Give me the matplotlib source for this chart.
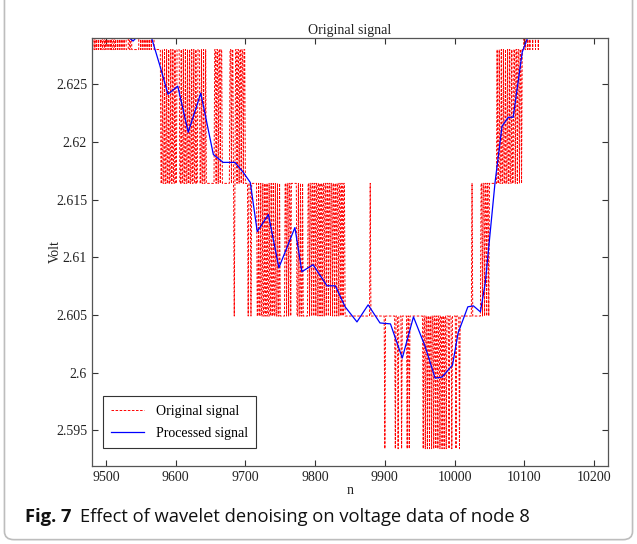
import numpy as np
import matplotlib
matplotlib.use("Agg")
import matplotlib.pyplot as plt
from matplotlib.patches import FancyBboxPatch
from matplotlib.ticker import FuncFormatter

# quantisation levels of the raw voltage (Volt)
levels = [2.5934, 2.6049, 2.6164, 2.6280, 2.6395]

# original signal as (n where it switches, level index from there on)
orig_switches = [
    (9470, 4), (9472, 3), (9473, 4), (9475, 3), (9476, 4), (9477, 3), (9479, 4), (9480, 3),
    (9482, 4), (9483, 3), (9485, 4), (9486, 3), (9487, 4), (9489, 3), (9490, 4), (9492, 3),
    (9493, 4), (9494, 3), (9496, 4), (9497, 3), (9499, 4), (9500, 3), (9501, 4), (9503, 3),
    (9504, 4), (9506, 3), (9507, 4), (9508, 3), (9510, 4), (9511, 3), (9513, 4), (9514, 3),
    (9515, 4), (9517, 3), (9518, 4), (9520, 3), (9521, 4), (9523, 3), (9524, 4), (9526, 3),
    (9527, 4), (9529, 3), (9533, 4), (9534, 3), (9536, 4), (9537, 3), (9548, 4), (9550, 3),
    (9551, 4), (9553, 3), (9554, 4), (9556, 3), (9557, 4), (9559, 3), (9560, 4), (9562, 3),
    (9563, 4), (9565, 3), (9566, 4), (9569, 3),
    (9579, 2), (9581, 3), (9582, 2), (9584, 3), (9585, 2), (9587, 3), (9588, 2), (9590, 3),
    (9591, 2), (9593, 3), (9594, 2), (9596, 3), (9597, 2), (9599, 3), (9600, 2), (9602, 3),
    (9606, 2), (9608, 3), (9609, 2), (9611, 3), (9612, 2), (9614, 3), (9615, 2), (9617, 3),
    (9618, 2), (9620, 3), (9621, 2), (9623, 3), (9624, 2), (9626, 3), (9627, 2), (9629, 3),
    (9630, 2), (9632, 3), (9635, 2), (9637, 3), (9638, 2), (9640, 3), (9641, 2), (9643, 3),
    (9644, 2), (9656, 3), (9658, 2), (9659, 3), (9661, 2), (9662, 3), (9664, 2), (9665, 3),
    (9667, 2), (9678, 3), (9680, 2), (9681, 3), (9683, 2), (9684, 1), (9685, 2), (9686, 3),
    (9688, 2), (9689, 3), (9691, 2), (9692, 3), (9694, 2), (9695, 3), (9697, 2), (9698, 3),
    (9700, 2), (9704, 1), (9705, 2), (9708, 1), (9709, 2),
    (9717, 1), (9719, 2), (9720, 1), (9722, 2), (9723, 1), (9725, 2), (9726, 1), (9728, 2),
    (9729, 1), (9731, 2), (9732, 1), (9734, 2), (9735, 1), (9737, 2), (9738, 1), (9740, 2),
    (9741, 1), (9743, 2), (9744, 1), (9746, 2), (9747, 1), (9749, 2), (9750, 1),
    (9757, 2), (9759, 1), (9760, 2), (9762, 1), (9763, 2), (9765, 1), (9766, 2),
    (9774, 1), (9776, 2), (9777, 1), (9779, 2), (9780, 1), (9782, 2), (9783, 1),
    (9790, 2), (9792, 1), (9793, 2), (9795, 1), (9796, 2), (9798, 1), (9799, 2), (9801, 1),
    (9802, 2), (9804, 1), (9805, 2), (9807, 1), (9808, 2), (9810, 1), (9811, 2), (9813, 1),
    (9814, 2), (9816, 1), (9817, 2), (9819, 1), (9820, 2), (9822, 1), (9823, 2), (9825, 1),
    (9826, 2), (9828, 1), (9829, 2), (9831, 1), (9832, 2), (9834, 1), (9835, 2), (9837, 1),
    (9838, 2), (9840, 1), (9841, 2), (9843, 1), (9879, 2), (9880, 1),
    (9900, 0), (9901, 1), (9915, 0), (9916, 1), (9919, 0), (9920, 1), (9924, 0), (9925, 1),
    (9932, 0), (9933, 1), (9935, 0), (9936, 1),
    (9955, 0), (9956, 1), (9958, 0), (9959, 1), (9961, 0), (9962, 1), (9964, 0), (9965, 1),
    (9967, 0), (9968, 1), (9970, 0), (9971, 1), (9973, 0), (9974, 1), (9976, 0), (9977, 1),
    (9979, 0), (9980, 1), (9982, 0), (9983, 1), (9985, 0), (9986, 1), (9988, 0), (9989, 1),
    (9992, 0), (9993, 1), (9996, 0), (9997, 1), (10002, 0), (10003, 1), (10007, 0), (10008, 1),
    (10025, 2), (10026, 1),
    (10038, 2), (10040, 1), (10041, 2), (10043, 1), (10044, 2), (10046, 1), (10047, 2), (10049, 1),
    (10050, 2),
    (10061, 3), (10062, 2), (10064, 3), (10065, 2), (10067, 3), (10068, 2), (10070, 3), (10071, 2),
    (10073, 3), (10074, 2), (10076, 3), (10077, 2), (10079, 3), (10080, 2), (10082, 3), (10083, 2),
    (10085, 3), (10087, 2), (10088, 3), (10090, 2), (10091, 3), (10093, 2), (10094, 3), (10096, 2),
    (10097, 3),
    (10100, 4), (10101, 3), (10103, 4), (10105, 3), (10106, 4), (10108, 3), (10109, 4), (10112, 3),
    (10113, 4), (10116, 3), (10117, 4), (10120, 3), (10121, 4),
]
orig_end = 10125

# denoised curve
proc_n = [9480, 9505, 9525, 9532, 9539, 9546, 9555, 9566, 9578, 9589, 9603, 9618, 9636,
          9654, 9668, 9685, 9697, 9707, 9717, 9733, 9748, 9771, 9781, 9797, 9817, 9829,
          9843, 9860, 9876, 9893, 9908, 9925, 9941, 9958, 9972, 9982, 9997, 10005, 10019,
          10027, 10037, 10044, 10058, 10068, 10077, 10084, 10097, 10104, 10112, 10125]
proc_v = [2.6340, 2.6320, 2.6298, 2.6291, 2.62874, 2.6292, 2.6302, 2.6289, 2.62648, 2.62413,
          2.62483, 2.62083, 2.62422, 2.61891, 2.61822, 2.61822, 2.61735, 2.61648, 2.61222,
          2.61370, 2.60909, 2.61257, 2.60874, 2.60935, 2.60752, 2.60752, 2.60570, 2.60439,
          2.60587, 2.60430, 2.60422, 2.60126, 2.60483, 2.60222, 2.59952, 2.59961, 2.60065,
          2.60343, 2.60570, 2.60578, 2.60526, 2.60778, 2.61648, 2.62135, 2.62213, 2.62213,
          2.62778, 2.62891, 2.6300, 2.6310]

sw_n = np.array([s[0] for s in orig_switches])
sw_l = np.array([s[1] for s in orig_switches])
orig_n = np.arange(sw_n[0], orig_end + 1)
orig_v = np.array(levels)[sw_l[np.searchsorted(sw_n, orig_n, side="right") - 1]]

serif = ["Liberation Serif", "DejaVu Serif"]
plt.rcParams["font.family"] = serif
plt.rcParams["font.size"] = 10

fig = plt.figure(figsize=(6.37, 5.44), dpi=100)
frame = FancyBboxPatch((0.007, 0.008), 0.986, 1.05, boxstyle="round,pad=0,rounding_size=0.015",
                       transform=fig.transFigure, facecolor="none", edgecolor="#bdbdbd",
                       linewidth=1.2)
fig.patches.append(frame)

ax = fig.add_axes([0.1444, 0.1434, 0.8101, 0.7867])
ax.plot(orig_n, orig_v, color="#ff0000", linestyle=(0, (2.6, 1.6)), linewidth=0.7,
        label="Original signal")
ax.plot(proc_n, proc_v, color="#0000ff", linewidth=0.9, label="Processed signal")

ax.set_xlim(9480, 10220)
ax.set_ylim(2.5919, 2.6290)
ax.set_xticks(np.arange(9500, 10201, 100))
ax.set_yticks([2.595, 2.6, 2.605, 2.61, 2.615, 2.62, 2.625])
ax.yaxis.set_major_formatter(FuncFormatter(lambda v, p: "%g" % v))
ax.tick_params(direction="in", top=True, right=True, length=4, width=0.8, colors="#333333",
               labelcolor="#222222")
for sp in ax.spines.values():
    sp.set_color("#555555")
    sp.set_linewidth(0.9)

ax.set_title("Original signal", fontsize=10, pad=3, color="#222222")
ax.set_xlabel("n", color="#222222")
ax.set_ylabel("Volt", color="#222222")
ax.xaxis.set_label_coords(0.5, -0.042)
ax.yaxis.set_label_coords(-0.058, 0.5)

leg = ax.legend(loc="lower left", bbox_to_anchor=(0.021, 0.042), borderaxespad=0,
                fancybox=False, edgecolor="#333333", framealpha=1, handlelength=2.4,
                borderpad=0.6, labelspacing=0.65, fontsize=10)
leg.get_frame().set_linewidth(0.8)

caption_font = ["Open Sans", "DejaVu Sans"]
fig.text(0.039, 0.04, "Fig. 7", fontsize=13.2, fontweight="bold", family=caption_font,
         va="baseline", color="#111111")
fig.text(0.125, 0.04, "Effect of wavelet denoising on voltage data of node 8", fontsize=13.2,
         family=caption_font, va="baseline", color="#111111")

fig.savefig("out.png", dpi=100)
